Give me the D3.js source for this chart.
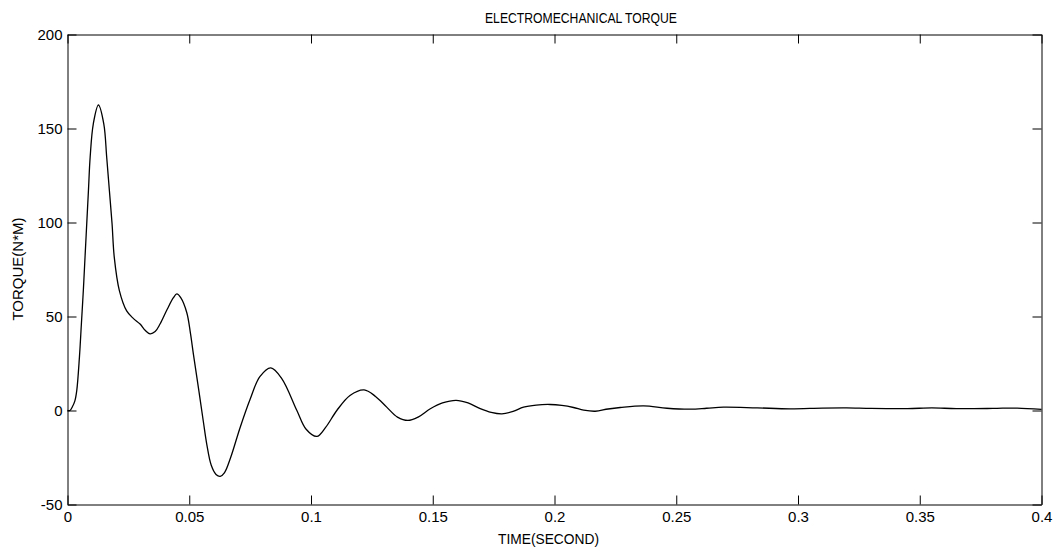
<!DOCTYPE html>
<html>
<head>
<meta charset="utf-8">
<script src="https://cdn.jsdelivr.net/npm/d3@7"></script>
<style>
  body { margin: 0; background: #fff; }
  text { font-family: "Liberation Sans", Arial, sans-serif; fill: #000; }
</style>
</head>
<body>
<div id="app"></div>
<script>
// values
const time = [0, 0.001, 0.002, 0.003, 0.0038, 0.0049, 0.0057, 0.0065, 0.0072, 0.0079, 0.0086,
	0.0093, 0.0106, 0.0127, 0.0149, 0.0161, 0.0172, 0.0183, 0.0192, 0.0213, 0.0243, 0.027,
	0.0298, 0.032, 0.0339, 0.036, 0.038, 0.041, 0.0435, 0.0449, 0.0465, 0.049, 0.0505, 0.0517,
	0.054, 0.0558, 0.0572, 0.059, 0.061, 0.0627, 0.0645, 0.067, 0.0709, 0.075, 0.079, 0.0835,
	0.088, 0.0942, 0.098, 0.1024, 0.106, 0.1106, 0.116, 0.1218, 0.1265, 0.1311, 0.1355, 0.1398,
	0.144, 0.149, 0.154, 0.1596, 0.1645, 0.1695, 0.174, 0.1784, 0.183, 0.1873, 0.1925, 0.1982,
	0.203, 0.2078, 0.212, 0.2167, 0.222, 0.227, 0.2366, 0.2462, 0.2558, 0.2625, 0.2694, 0.2832,
	0.2968, 0.31, 0.32, 0.33, 0.345, 0.355, 0.365, 0.38, 0.39, 0.4];
const torque = [0, 0, 2, 5, 10.6, 28.4, 46, 63.8, 81.6, 99.3, 117,
	134.7, 152.5, 162.5, 152.5, 134.7, 117, 99.3, 81.6, 63.8, 53, 49,
	46, 42.5, 40.8, 42, 46, 54, 60, 62, 60, 52, 41, 30,
	10, -6, -18, -29, -34, -35, -33, -25, -9, 6, 18, 22.7,
	17, 0, -10, -13.8, -9, 0, 8, 11, 7.5, 1.8, -3.5, -5.3,
	-3.5, 0.9, 4, 5.4, 4, 1, -1, -1.8, -0.5, 1.8, 2.9, 3.2,
	2.7, 1.6, 0.2, -0.4, 0.8, 1.6, 2.5, 1.2, 0.7, 1.2, 1.8, 1.4,
	0.9, 1.3, 1.4, 1.1, 1, 1.4, 1, 1.1, 1.3, 0.6];
const xTicks = [0, 0.05, 0.1, 0.15, 0.2, 0.25, 0.3, 0.35, 0.4];
const yTicks = [-50, 0, 50, 100, 150, 200];
const title = 'ELECTROMECHANICAL TORQUE';
const xLabel = 'TIME(SECOND)';
const yLabel = 'TORQUE(N*M)';

const outerWidth = 1058,
	outerHeight = 553;
const margin = { top: 34.5, right: 16.5, bottom: 48.5, left: 67.5 };
const width = outerWidth - margin.left - margin.right,
	height = outerHeight - margin.top - margin.bottom;

const svg = d3.select('#app').append('svg')
	.attr('width', outerWidth)
	.attr('height', outerHeight);
const graph = svg.append('g')
	.attr('transform', `translate(${margin.left}, ${margin.top})`);

const x = d3.scaleLinear().domain([0, 0.4]).range([0, width]);
const y = d3.scaleLinear().domain([-50, 200]).range([height, 0]);

const TICK = 9;
const fmt = d => String(d);

// axes, ticks pointing inward like matlab
function styleAxis (g) {
	g.selectAll('.domain').attr('stroke', '#000').attr('stroke-width', 1);
	g.selectAll('.tick line').attr('stroke', '#000').attr('stroke-width', 1);
	g.selectAll('.tick text').style('font-size', '15px').attr('fill', '#000');
}

graph.append('g')
	.attr('transform', `translate(0, ${height})`)
	.call(d3.axisBottom(x).tickValues(xTicks).tickFormat(fmt)
		.tickSizeInner(-TICK).tickSizeOuter(0).tickPadding(7))
	.call(styleAxis);
graph.append('g')
	.call(d3.axisTop(x).tickValues(xTicks).tickFormat('')
		.tickSizeInner(-TICK).tickSizeOuter(0))
	.call(styleAxis);
graph.append('g')
	.call(d3.axisLeft(y).tickValues(yTicks).tickFormat(fmt)
		.tickSizeInner(-TICK).tickSizeOuter(0).tickPadding(5))
	.call(styleAxis);
graph.append('g')
	.attr('transform', `translate(${width}, 0)`)
	.call(d3.axisRight(y).tickValues(yTicks).tickFormat('')
		.tickSizeInner(-TICK).tickSizeOuter(0))
	.call(styleAxis);

// torque curve
const points = time.map((t, i) => [t, torque[i]]);
const line = d3.line()
	.x(d => x(d[0]))
	.y(d => y(d[1]))
	.curve(d3.curveCatmullRom.alpha(0.5));

graph.append('path')
	.datum(points)
	.attr('fill', 'none')
	.attr('stroke', '#000')
	.attr('stroke-width', 1.3)
	.attr('d', line);

// labels
svg.append('text')
	.attr('x', 485)
	.attr('y', 22.7)
	.attr('textLength', 192)
	.attr('lengthAdjust', 'spacingAndGlyphs')
	.style('font-size', '14.5px')
	.text(title);

svg.append('text')
	.attr('x', 498)
	.attr('y', 544.3)
	.attr('textLength', 101)
	.attr('lengthAdjust', 'spacingAndGlyphs')
	.style('font-size', '14.5px')
	.text(xLabel);

svg.append('text')
	.attr('transform', 'translate(23.3, 269) rotate(-90)')
	.attr('text-anchor', 'middle')
	.style('font-size', '15px')
	.text(yLabel);
</script>
</body>
</html>
